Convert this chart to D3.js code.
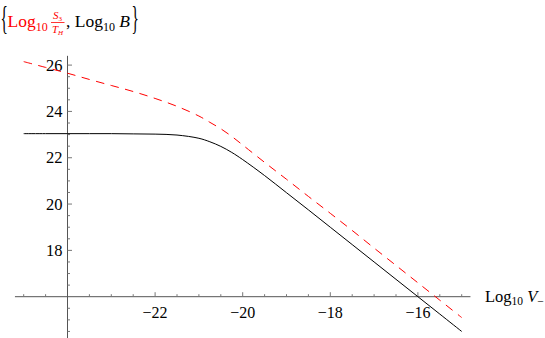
<!DOCTYPE html>
<html><head><meta charset="utf-8">
<script src="https://d3js.org/d3.v7.min.js"></script>
<style>body{margin:0;background:#fff}svg{display:block}text{font-family:"Liberation Serif","Times New Roman","DejaVu Serif",serif}</style>
</head><body>
<svg id="c" width="545" height="338"></svg>
<script>
const xVals = [-25,-24.5,-24,-23.5,-23,-22.5,-22,-21.5,-21,-20.75,-20.5,-20.25,-20,-19.5,-19,-18.5,-18,-17.5,-17,-16.5,-16,-15.5,-15];
const logS3overTH = [26.15,25.9,25.65,25.38,25.12,24.86,24.56,24.22,23.8,23.53,23.25,22.92,22.55,21.8,21.07,20.33,19.6,18.86,18.1,17.35,16.6,15.85,15.1];
const logB = [23.04,23.04,23.04,23.04,23.04,23.03,23.02,22.98,22.84,22.69,22.49,22.23,21.92,21.23,20.49,19.75,19.0,18.25,17.5,16.75,16.0,15.25,14.5];
const xMajorTicks = [-22,-20,-18,-16];
const yMajorTicks = [18,20,22,24,26];
const xTickLabels = ["\u221222","\u221220","\u221218","\u221216"];
const yTickLabels = ["18","20","22","24","26"];

const svg = d3.select("#c");
const x = d3.scaleLinear().domain([-24,-16]).range([67.5,417.9]);
const y = d3.scaleLinear().domain([16,26]).range([296.7,65.1]);

// axes lines
const x0 = x(-24), y0 = y(16);
svg.append("line").attr("x1",x(-25.2)).attr("x2",x(-14.8)).attr("y1",y0).attr("y2",y0)
  .attr("stroke","#555").attr("stroke-width",1);
svg.append("line").attr("x1",x0).attr("x2",x0).attr("y1",y(26.4)).attr("y2",y(14.1))
  .attr("stroke","#555").attr("stroke-width",1);

// x ticks
const xMinor = d3.range(-25,-14.99,0.5);
xMinor.forEach(v=>{
  if (Math.abs(v+24)<1e-6) return;
  const major = xMajorTicks.some(m=>Math.abs(m-v)<1e-6);
  svg.append("line").attr("x1",x(v)).attr("x2",x(v)).attr("y1",y0).attr("y2",y0-(major?4.5:2.5))
    .attr("stroke","#777").attr("stroke-width",1);
});
xMajorTicks.forEach((v,i)=>{
  svg.append("text").attr("x",x(v)).attr("y",318).attr("text-anchor","middle")
    .attr("font-size",16).attr("fill","#000").text(xTickLabels[i]);
});
// y ticks
const yMinor = d3.range(14.5,26.01,0.5);
yMinor.forEach(v=>{
  if (Math.abs(v-16)<1e-6) return;
  const major = yMajorTicks.some(m=>Math.abs(m-v)<1e-6);
  svg.append("line").attr("x1",x0).attr("x2",x0+(major?4.5:2.5)).attr("y1",y(v)).attr("y2",y(v))
    .attr("stroke","#777").attr("stroke-width",1);
});
yMajorTicks.forEach((v,i)=>{
  svg.append("text").attr("x",62.5).attr("y",y(v)+5.5).attr("text-anchor","end")
    .attr("font-size",16.5).attr("fill","#000").text(yTickLabels[i]);
});

// curves
const line = d3.line().curve(d3.curveCatmullRom.alpha(0.5));
svg.append("path").attr("d", line(xVals.map((v,i)=>[x(v),y(logB[i])])))
  .attr("fill","none").attr("stroke","#000").attr("stroke-width",1);
svg.append("path").attr("d", line(xVals.map((v,i)=>[x(v),y(logS3overTH[i])])))
  .attr("fill","none").attr("stroke","#ff0000").attr("stroke-width",1).attr("stroke-dasharray","8.5,6.5");

// x axis label
const xl = svg.append("text").attr("x",485).attr("y",301.5).attr("font-size",16.5).attr("fill","#000");
xl.append("tspan").text("Log");
xl.append("tspan").attr("font-size",11.5).attr("dy",3.5).text("10");
xl.append("tspan").attr("dy",-3.5).attr("font-style","italic").text(" V");
xl.append("tspan").attr("font-size",11.5).attr("dy",3).text("\u2212");

// title
svg.append("text").attr("transform","translate(0.5,28.5) scale(0.45,1)").attr("font-size",34).attr("fill","#000").text("{");
const t1 = svg.append("text").attr("x",7.5).attr("y",27.3).attr("font-size",17.5).attr("fill","#ff0000");
t1.append("tspan").text("Log");
t1.append("tspan").attr("font-size",12).attr("dy",3.5).text("10");
// fraction
const fx = 57.5;
const num = svg.append("text").attr("x",fx).attr("y",19).attr("text-anchor","middle").attr("font-size",11).attr("fill","#ff0000");
num.append("tspan").attr("font-style","italic").text("S");
num.append("tspan").attr("font-size",7).attr("dy",2).text("3");
svg.append("line").attr("x1",51).attr("x2",64.5).attr("y1",22.5).attr("y2",22.5).attr("stroke","#ff0000").attr("stroke-width",0.8);
const den = svg.append("text").attr("x",fx).attr("y",33).attr("text-anchor","middle").attr("font-size",11).attr("fill","#ff0000");
den.append("tspan").attr("font-style","italic").text("T");
den.append("tspan").attr("font-style","italic").attr("font-size",7).attr("dy",2).text("H");
const t2 = svg.append("text").attr("x",66).attr("y",27.3).attr("font-size",17.5).attr("fill","#000");
t2.append("tspan").text(", Log");
t2.append("tspan").attr("font-size",12).attr("dy",3.5).text("10");
t2.append("tspan").attr("dy",-3.5).attr("font-style","italic").text(" B");
svg.append("text").attr("transform","translate(131.5,28.5) scale(0.45,1)").attr("font-size",34).attr("fill","#000").text("}");
</script>
</body></html>
